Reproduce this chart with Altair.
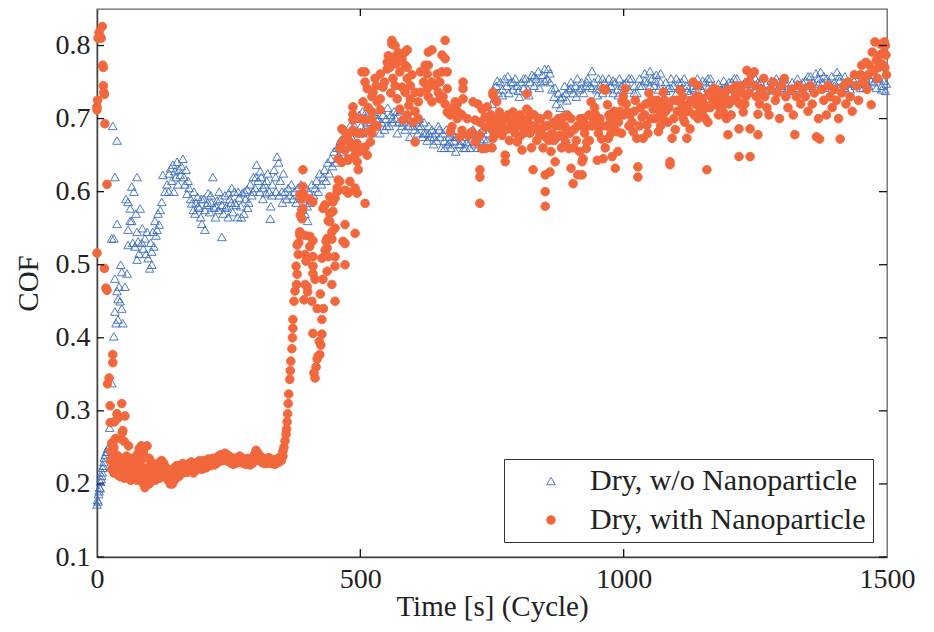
import altair as alt
import pandas as pd

SERIES = ["Dry, w/o Nanoparticle", "Dry, with Nanoparticle"]
x_ticks = [0, 500, 1000, 1500]
y_ticks = [0.1, 0.2, 0.3, 0.4, 0.5, 0.6, 0.7, 0.8]
inner_x_ticks = [500, 1000]

# ---------------- Dry, w/o Nanoparticle (triangles) ----------------
blue_rise = [[0,0.172],[1,0.178],[2,0.176],[3,0.186],[4,0.19],[5,0.195],[6,0.194],[7,0.203],[8,0.207],[9,0.211],
             [10,0.216],[11,0.222],[12,0.225],[13,0.23],[14,0.236],[16,0.24],[18,0.244],[20,0.248],[22,0.25],[24,0.277],
             [28,0.338],[32,0.402],[36,0.42],[40,0.425],[34,0.436],[49,0.42],[47,0.44],[40,0.453],[44,0.45],[38,0.464],
             [53,0.47],[34,0.481],[47,0.49],[57,0.488],[28,0.536],[38,0.556],[34,0.62],[30,0.69],[38,0.67],[32,0.536],
             [45,0.5],[42,0.47]]
blue_dip = [[59,0.586],[63,0.577],[82,0.577],[63,0.56],[59,0.548],[76,0.545],[59,0.527],[72,0.525],[78,0.532],[76,0.507],
            [91,0.536],[88,0.522],[97,0.509],[100,0.495],[104,0.518],[106,0.545],[114,0.548],[116,0.57],[123,0.586],[129,0.6],
            [125,0.623],[66,0.607],[55,0.59],[70,0.6],[85,0.53],[93,0.515],[95,0.545],[102,0.53],[108,0.525],[110,0.56],
            [118,0.555],[120,0.575],[112,0.54],[80,0.515],[68,0.53],[86,0.55],[104,0.5],[66,0.56],[74,0.57],[76,0.62]]
blue_hump = [[133,0.61],[137,0.625],[140,0.632],[144,0.637],[148,0.628],[152,0.641],[154,0.61],[156,0.63],[158,0.623],[160,0.635],
             [163,0.645],[165,0.62],[167,0.61],[169,0.63],[171,0.597],[173,0.615],[175,0.605],[136,0.6],[142,0.615],[146,0.6],
             [150,0.62]]
blue_band = [[178,0.59],[180,0.584],[183,0.575],[186,0.57],[188,0.585],[191,0.593],[194,0.578],[197,0.565],[199,0.556],[202,0.59],
             [205,0.548],[205,0.575],[208,0.582],[211,0.598],[214,0.572],[217,0.585],[220,0.62],[222,0.578],[225,0.565],[228,0.588],
             [231,0.575],[234,0.59],[237,0.538],[237,0.582],[240,0.57],[243,0.595],[246,0.58],[249,0.565],[252,0.59],[255,0.585],
             [258,0.572],[261,0.6],[264,0.582],[267,0.565],[270,0.592],[273,0.58],[276,0.598],[279,0.57],[282,0.59],[285,0.603],
             [288,0.585],[291,0.61],[294,0.595],[297,0.62],[300,0.605],[303,0.637],[306,0.615],[309,0.6],[312,0.62],[315,0.59],
             [318,0.61],[321,0.598],[324,0.625],[327,0.6],[329,0.563],[330,0.58],[333,0.61],[336,0.63],[339,0.62],[342,0.648],
             [345,0.64],[348,0.615],[351,0.6],[354,0.625],[184,0.6],[192,0.58],[198,0.59],[210,0.585],[216,0.595],[226,0.58],
             [232,0.6],[244,0.578],[250,0.598],[256,0.605],[262,0.585],[268,0.6],[274,0.565],[280,0.6],[286,0.578],[296,0.6],
             [302,0.62],[310,0.628],[316,0.605],[322,0.615],[332,0.595],[340,0.6],[346,0.595],[352,0.585]]
blue_climb = [[357,0.6],[360,0.59],[363,0.605],[366,0.595],[369,0.61],[372,0.59],[375,0.6],[378,0.585],[381,0.605],[384,0.595],
              [387,0.61],[390,0.6],[393,0.59],[396,0.605],[399,0.58],[402,0.6],[405,0.585],[408,0.61],[411,0.595],[414,0.605],
              [417,0.615],[420,0.6],[423,0.625],[426,0.61],[429,0.62],[432,0.63],[435,0.615],[438,0.64],[441,0.625],[444,0.645],
              [447,0.635],[450,0.655],[453,0.64],[456,0.66],[459,0.65],[462,0.67],[465,0.655],[468,0.675],[471,0.665],[474,0.68],
              [477,0.67],[480,0.69],[483,0.675],[486,0.685],[395,0.57],[400,0.56],[390,0.575]]
blue_mid = [[489,0.69],[492,0.7],[495,0.68],[498,0.705],[501,0.69],[504,0.71],[507,0.685],[510,0.7],[513,0.695],[516,0.71],
            [519,0.68],[522,0.7],[525,0.69],[528,0.705],[531,0.69],[534,0.7],[537,0.68],[540,0.695],[543,0.705],[546,0.685],
            [549,0.7],[552,0.715],[555,0.69],[558,0.705],[561,0.695],[564,0.71],[567,0.7],[570,0.68],[573,0.695],[576,0.712],
            [579,0.69],[582,0.7],[585,0.685],[588,0.705],[591,0.69],[594,0.675],[597,0.695],[600,0.705],[603,0.685],[606,0.695],
            [609,0.68],[612,0.7],[615,0.69],[618,0.675],[621,0.695],[624,0.68],[627,0.67],[630,0.69],[633,0.675],[636,0.685],
            [639,0.665],[642,0.68],[645,0.67],[648,0.69],[651,0.675],[654,0.66],[657,0.68],[660,0.67],[663,0.685],[666,0.665],
            [669,0.675],[672,0.66],[675,0.68],[678,0.67],[681,0.655],[684,0.675],[687,0.665],[690,0.68],[693,0.67],[696,0.66],
            [699,0.675],[702,0.668],[705,0.68],[708,0.66],[711,0.672],[714,0.685],[717,0.665],[720,0.675],[723,0.66],[726,0.68],
            [729,0.67],[732,0.685],[735,0.672],[738,0.66],[741,0.68],[744,0.69],[747,0.7],[750,0.72],[752,0.74],[755,0.728]]
blue_mid_b = [[490,0.7],[500,0.682],[510,0.708],[520,0.695],[530,0.7],[540,0.712],[550,0.69],[560,0.7],[570,0.71],[580,0.695],
              [590,0.702],[600,0.69],[610,0.69],[620,0.68],[630,0.68],[640,0.675],[650,0.685],[660,0.66],[670,0.668],[680,0.675],
              [690,0.665],[700,0.66],[710,0.68],[720,0.668],[730,0.66],[740,0.67]]
blue_high = [[758,0.745],[762,0.735],[766,0.75],[770,0.74],[774,0.755],[778,0.745],[782,0.735],[786,0.75],[790,0.74],[794,0.755],
             [798,0.745],[802,0.73],[806,0.75],[810,0.742],[814,0.755],[818,0.74],[822,0.75],[826,0.76],[830,0.745],[834,0.755],
             [838,0.765],[842,0.75],[846,0.76],[850,0.768],[854,0.755],[857,0.768],[860,0.75],[864,0.74],[868,0.73],[872,0.72],
             [876,0.735],[880,0.715],[884,0.73],[888,0.745],[892,0.725],[896,0.74],[900,0.75],[904,0.735],[908,0.745],[912,0.755],
             [916,0.74],[920,0.75],[924,0.735],[928,0.745],[932,0.755],[936,0.745],[940,0.765],[944,0.75],[948,0.74],[952,0.755],
             [956,0.745],[960,0.735],[964,0.75],[968,0.742],[972,0.755],[976,0.745],[980,0.735],[984,0.75],[988,0.74],[992,0.755],
             [996,0.745],[1000,0.735],[1005,0.75],[1010,0.74],[1015,0.755],[1020,0.745],[1025,0.735],[1030,0.755],[1035,0.745],[1040,0.762],
             [1045,0.75],[1050,0.765],[1054,0.755],[1058,0.745],[1062,0.76],[1066,0.74],[1070,0.75],[1075,0.738],[1080,0.75],[1085,0.742],
             [1090,0.755],[1095,0.745],[1100,0.735],[1105,0.75],[1110,0.742],[1115,0.755],[1120,0.745],[1125,0.735],[1130,0.75],[1135,0.74],
             [1140,0.755],[1145,0.745],[1150,0.738],[1155,0.75],[1160,0.742],[1165,0.755],[1170,0.745],[1175,0.735],[1180,0.748],[1185,0.74],
             [1190,0.752],[1195,0.745],[1200,0.735],[1205,0.75],[1210,0.742],[1215,0.755],[1220,0.745],[1225,0.738],[1230,0.75],[1235,0.742],
             [1240,0.755],[1245,0.745],[1250,0.738],[1255,0.75],[1260,0.742],[1265,0.735],[1270,0.748],[1275,0.74],[1280,0.752],[1285,0.745],
             [1290,0.738],[1295,0.75],[1300,0.742],[1305,0.755],[1310,0.745],[1315,0.738],[1320,0.75],[1325,0.742],[1330,0.755],[1335,0.745],
             [1340,0.738],[1345,0.752],[1350,0.745],[1355,0.758],[1360,0.75],[1365,0.762],[1370,0.755],[1374,0.764],[1378,0.75],[1382,0.742],
             [1386,0.755],[1390,0.745],[1395,0.758],[1400,0.75],[1405,0.764],[1410,0.752],[1415,0.745],[1420,0.758],[1425,0.748],[1430,0.74],
             [1435,0.755],[1440,0.745],[1445,0.76],[1450,0.75],[1455,0.742],[1460,0.755],[1465,0.745],[1470,0.76],[1475,0.75],[1480,0.742],
             [1485,0.755],[1490,0.745],[1494,0.752],[1497,0.738],[1499,0.748]]
blue_high_b = [[760,0.752],[770,0.732],[780,0.758],[790,0.75],[800,0.738],[810,0.755],[820,0.732],[830,0.758],[840,0.742],[850,0.752],
               [860,0.762],[870,0.742],[880,0.728],[890,0.735],[900,0.742],[910,0.73],[920,0.742],[930,0.75],[940,0.742],[950,0.732],
               [960,0.755],[970,0.74],[980,0.752],[990,0.732],[1000,0.748],[1010,0.755],[1020,0.735],[1030,0.745],[1040,0.752],[1050,0.745],
               [1060,0.752],[1070,0.762],[1080,0.738],[1090,0.742],[1100,0.755],[1110,0.75],[1120,0.738],[1130,0.742],[1140,0.745],[1150,0.752],
               [1160,0.755],[1170,0.738],[1180,0.735],[1190,0.742],[1200,0.75],[1210,0.755],[1220,0.738],[1230,0.742],[1240,0.748],[1250,0.755],
               [1260,0.75],[1270,0.738],[1280,0.742],[1290,0.755],[1300,0.75],[1310,0.74],[1320,0.742],[1330,0.748],[1340,0.75],[1350,0.758],
               [1360,0.742],[1370,0.748],[1380,0.758],[1390,0.75],[1400,0.745],[1410,0.758],[1420,0.742],[1430,0.75],[1440,0.755],[1450,0.742],
               [1460,0.748],[1470,0.752],[1480,0.755],[1490,0.74]]

# ---------------- Dry, with Nanoparticle (filled circles) ----------------
orange_start = [[0,0.716],[1,0.725],[2,0.81],[4,0.818],[6,0.812],[8,0.81],[10,0.826],[11,0.773],[12,0.77],[12,0.745],
                [13,0.736],[14,0.733],[0,0.712],[15,0.693],[19,0.61],[0,0.516],[14,0.495],[17,0.468],[19,0.465],[20,0.337],
                [23,0.345],[30,0.366],[30,0.377],[25,0.307],[25,0.284],[38,0.296],[47,0.31],[53,0.293],[49,0.273],[30,0.256],
                [33,0.285],[40,0.29],[35,0.262]]
orange_band = [[26,0.245],[26,0.232],[28,0.256],[28,0.22],[32,0.25],[32,0.228],[32,0.215],[36,0.24],[36,0.222],[40,0.238],
               [40,0.212],[40,0.228],[44,0.262],[44,0.225],[44,0.21],[48,0.27],[48,0.232],[48,0.218],[52,0.258],[52,0.22],
               [52,0.208],[56,0.238],[56,0.222],[56,0.212],[60,0.252],[60,0.228],[60,0.21],[64,0.235],[64,0.218],[64,0.205],
               [68,0.232],[68,0.215],[72,0.228],[72,0.212],[76,0.24],[76,0.22],[76,0.205],[80,0.248],[80,0.225],[80,0.21],
               [84,0.252],[84,0.232],[84,0.215],[88,0.243],[88,0.22],[88,0.2],[91,0.195],[91,0.21],[95,0.252],[95,0.222],
               [95,0.208],[99,0.235],[99,0.215],[99,0.2],[103,0.23],[103,0.212],[107,0.226],[107,0.21],[111,0.222],[111,0.215],
               [111,0.205],[115,0.225],[115,0.212],[119,0.23],[119,0.218],[119,0.208],[123,0.232],[123,0.215],[127,0.228],[127,0.212],
               [131,0.222],[131,0.21],[135,0.215],[135,0.205],[139,0.212],[139,0.2],[143,0.218],[143,0.2],[147,0.222],[147,0.205],
               [151,0.225],[151,0.212],[155,0.222],[155,0.21],[159,0.225],[159,0.215],[163,0.228],[163,0.215],[167,0.226],[167,0.218],
               [171,0.224],[171,0.216],[175,0.228],[175,0.218],[179,0.23],[179,0.22],[183,0.226],[183,0.215],[187,0.228],[187,0.218],
               [191,0.23],[191,0.222],[195,0.232],[195,0.222],[199,0.228],[199,0.22],[203,0.232],[203,0.224],[207,0.23],[207,0.222],
               [211,0.234],[211,0.226],[215,0.232],[215,0.225],[219,0.235],[219,0.228],[223,0.233],[223,0.226],[227,0.236],[227,0.228],
               [231,0.238],[231,0.23],[235,0.24],[235,0.232],[239,0.238],[239,0.232],[243,0.242],[243,0.234],[247,0.24],[247,0.232],
               [251,0.238],[251,0.23],[255,0.236],[255,0.228],[259,0.235],[259,0.227],[263,0.234],[263,0.228],[267,0.236],[267,0.23],
               [271,0.238],[271,0.23],[275,0.236],[275,0.229],[279,0.234],[279,0.228],[283,0.232],[283,0.227],[287,0.235],[287,0.228],
               [291,0.232],[291,0.226],[295,0.234],[295,0.228],[299,0.24],[299,0.232],[302,0.246],[302,0.236],[306,0.242],[306,0.234],
               [310,0.238],[310,0.231],[314,0.235],[314,0.229],[318,0.234],[318,0.228],[322,0.233],[322,0.228],[326,0.236],[326,0.229],
               [330,0.234],[330,0.228],[334,0.233],[334,0.228],[338,0.232],[338,0.227],[342,0.234],[342,0.229],[346,0.236],[346,0.23],
               [350,0.238],[350,0.232],[353,0.245],[353,0.238]]
orange_rise = [[355,0.25],[357,0.259],[359,0.268],[360,0.275],[361,0.285],[362,0.296],[363,0.31],[364,0.323],[366,0.343],[367,0.355],
               [368,0.368],[370,0.385],[371,0.4],[372,0.413],[372,0.425],[374,0.45],[376,0.464],[379,0.473],[380,0.487],[378,0.498],
               [382,0.514],[380,0.527],[385,0.545],[389,0.563],[389,0.575],[385,0.596],[391,0.607],[391,0.63],[388,0.59],[386,0.568],
               [383,0.53]]
orange_scatter = [[414,0.345],[420,0.375],[423,0.377],[418,0.371],[427,0.405],[410,0.406],[427,0.425],[418,0.44],[408,0.45],[393,0.452],
                  [452,0.45],[446,0.473],[429,0.48],[410,0.488],[395,0.473],[410,0.498],[397,0.505],[437,0.491],[471,0.5],[452,0.511],
                  [439,0.511],[433,0.52],[410,0.511],[395,0.514],[404,0.525],[385,0.541],[404,0.539],[410,0.533],[437,0.523],[437,0.536],
                  [446,0.535],[452,0.55],[467,0.532],[471,0.555],[490,0.543],[442,0.559],[442,0.57],[433,0.582],[448,0.573],[452,0.591],
                  [456,0.6],[461,0.614],[458,0.616],[475,0.6],[480,0.614],[490,0.605],[494,0.598],[509,0.584],[477,0.598],[391,0.598],
                  [395,0.593],[404,0.59],[410,0.586],[391,0.577],[395,0.54],[414,0.48],[399,0.47],[429,0.577],[442,0.593],[456,0.605],
                  [448,0.586],[471,0.602],[446,0.545],[435,0.532],[427,0.509],[439,0.56],[471,0.529],[452,0.498],[416,0.36],[412,0.352],
                  [425,0.39],[422,0.395],[430,0.44],[424,0.46],[400,0.463]]
orange_mid = [[465,0.686],[484,0.682],[496,0.68],[465,0.668],[471,0.657],[484,0.661],[494,0.666],[509,0.661],[513,0.65],[490,0.65],
              [494,0.641],[496,0.63],[477,0.643],[458,0.645],[465,0.64],[461,0.659],[477,0.645],[490,0.664],[499,0.655],[519,0.668],
              [480,0.668],[467,0.684],[486,0.684],[486,0.698],[486,0.716],[486,0.706],[505,0.68],[509,0.698],[519,0.684],[522,0.68],
              [532,0.69],[522,0.698],[522,0.709],[505,0.723],[513,0.741],[509,0.75],[528,0.755],[538,0.761],[524,0.736],[503,0.764],
              [509,0.764],[522,0.73],[532,0.723],[538,0.712],[538,0.727],[543,0.743],[500,0.7],[475,0.675],[515,0.715],[530,0.745]]
orange_peak1 = [[551,0.768],[551,0.777],[560,0.802],[560,0.807],[566,0.8],[572,0.79],[553,0.786],[562,0.784],[579,0.782],[585,0.773],
                [585,0.791],[589,0.794],[575,0.764],[562,0.755],[589,0.77],[589,0.755],[595,0.745],[579,0.743],[585,0.736],[570,0.727],
                [575,0.713],[595,0.727],[604,0.736],[610,0.723],[604,0.71],[600,0.695],[589,0.705],[610,0.7],[604,0.668],[581,0.698],
                [614,0.764],[556,0.77],[568,0.775],[598,0.76],[546,0.75],[558,0.735],[566,0.745],[592,0.718]]
orange_peak2 = [[629,0.791],[636,0.794],[629,0.773],[623,0.773],[655,0.787],[661,0.807],[661,0.782],[655,0.764],[665,0.764],[646,0.761],
                [627,0.761],[636,0.75],[651,0.75],[665,0.741],[648,0.736],[627,0.741],[614,0.736],[629,0.73],[636,0.723],[651,0.727],
                [661,0.72],[665,0.709],[671,0.705],[680,0.723],[684,0.72],[693,0.705],[695,0.727],[695,0.75],[695,0.741],[686,0.709],
                [703,0.7],[684,0.7],[674,0.689],[693,0.684],[671,0.682],[689,0.675],[705,0.677],[712,0.682],[714,0.723],[723,0.72],
                [731,0.713],[718,0.698],[727,0.695],[737,0.702],[737,0.688],[727,0.677],[718,0.668],[731,0.659],[737,0.659],[727,0.63],
                [727,0.62],[727,0.584],[642,0.745],[620,0.75],[657,0.73],[676,0.715]]
orange_plateau = [[752,0.732],[752,0.736],[759,0.723],[741,0.716],[743,0.7],[752,0.684],[764,0.709],[752,0.673],[750,0.66],[769,0.677],
                  [775,0.65],[775,0.641],[790,0.709],[794,0.68],[798,0.668],[807,0.657],[816,0.734],[816,0.713],[822,0.68],[828,0.63],
                  [841,0.677],[847,0.66],[851,0.623],[851,0.6],[851,0.58],[860,0.627],[870,0.641],[866,0.695],[879,0.677],[885,0.702],
                  [890,0.668],[896,0.659],[900,0.632],[904,0.611],[913,0.623],[923,0.645],[929,0.659],[938,0.723],[942,0.7],[961,0.741],
                  [961,0.645],[969,0.719],[976,0.68],[984,0.632],[987,0.7],[989,0.655],[745,0.69],[748,0.705],[756,0.695],[760,0.68],
                  [766,0.69],[772,0.7],[778,0.685],[783,0.67],[786,0.695],[800,0.69],[804,0.705],[810,0.68],[812,0.695],[818,0.7],
                  [825,0.66],[832,0.69],[835,0.67],[838,0.7],[844,0.685],[855,0.69],[858,0.67],[862,0.655],[872,0.69],[876,0.7],
                  [882,0.66],[888,0.69],[893,0.705],[898,0.68],[905,0.66],[910,0.67],[916,0.655],[920,0.69],[926,0.68],[932,0.69],
                  [935,0.67],[945,0.715],[950,0.69],[955,0.7],[958,0.672],[965,0.66],[972,0.705],[980,0.69],[993,0.71],[996,0.68],
                  [921,0.623],[921,0.641],[930,0.668],[927,0.691],[946,0.706],[950,0.643],[965,0.739],[971,0.673],[978,0.648],[988,0.682]]
orange_plateau_b = [[760,0.7],[770,0.69],[780,0.705],[790,0.685],[796,0.7],[802,0.675],[808,0.695],[814,0.685],[820,0.71],[826,0.69],
                    [830,0.705],[836,0.685],[842,0.7],[848,0.69],[852,0.675],[856,0.705],[864,0.68],[868,0.67],[874,0.675],[880,0.69],
                    [886,0.675],[892,0.685],[900,0.7],[906,0.685],[912,0.69],[918,0.7],[924,0.7],[934,0.705],[940,0.69],[948,0.7],
                    [952,0.68],[960,0.69],[968,0.69],[975,0.7],[982,0.71],[990,0.695]]
orange_rising = [[997,0.723],[999,0.73],[1003,0.741],[1007,0.709],[1016,0.695],[1018,0.682],[1027,0.634],[1027,0.62],[1025,0.673],[1035,0.702],
                 [1037,0.673],[1050,0.723],[1044,0.691],[1056,0.713],[1060,0.7],[1066,0.682],[1069,0.709],[1075,0.736],[1075,0.7],[1084,0.695],
                 [1088,0.641],[1088,0.637],[1092,0.673],[1101,0.725],[1107,0.739],[1107,0.709],[1113,0.7],[1120,0.718],[1120,0.673],[1126,0.686],
                 [1132,0.75],[1141,0.745],[1149,0.727],[1145,0.713],[1141,0.7],[1158,0.63],[1160,0.695],[1170,0.741],[1177,0.727],[1183,0.736],
                 [1189,0.709],[1198,0.678],[1200,0.72],[1209,0.741],[1217,0.723],[1219,0.686],[1219,0.648],[1227,0.709],[1234,0.766],[1010,0.69],
                 [1020,0.71],[1030,0.69],[1040,0.705],[1046,0.68],[1052,0.7],[1062,0.715],[1070,0.69],[1080,0.71],[1095,0.7],[1098,0.685],
                 [1110,0.72],[1116,0.695],[1124,0.71],[1136,0.72],[1138,0.73],[1152,0.72],[1155,0.7],[1164,0.715],[1166,0.73],[1174,0.72],
                 [1180,0.705],[1186,0.725],[1192,0.73],[1195,0.7],[1204,0.705],[1212,0.73],[1222,0.735],[1230,0.72],[1238,0.735]]
orange_rising_b = [[1000,0.705],[1005,0.72],[1012,0.705],[1022,0.725],[1032,0.715],[1042,0.72],[1048,0.735],[1055,0.725],[1064,0.725],[1072,0.72],
                   [1078,0.725],[1086,0.715],[1094,0.725],[1102,0.71],[1112,0.73],[1118,0.71],[1128,0.725],[1134,0.705],[1143,0.73],[1150,0.705],
                   [1157,0.715],[1162,0.735],[1168,0.72],[1176,0.74],[1182,0.715],[1190,0.72],[1198,0.74],[1206,0.725],[1214,0.745],[1220,0.72],
                   [1226,0.745],[1232,0.73],[1236,0.75]]
orange_end = [[1242,0.76],[1248,0.764],[1250,0.745],[1252,0.73],[1255,0.706],[1255,0.678],[1240,0.648],[1240,0.686],[1258,0.72],[1262,0.74],
              [1266,0.755],[1268,0.73],[1272,0.715],[1276,0.705],[1280,0.74],[1284,0.75],[1288,0.725],[1292,0.735],[1296,0.7],[1300,0.745],
              [1305,0.755],[1308,0.73],[1312,0.715],[1318,0.74],[1322,0.705],[1325,0.678],[1328,0.73],[1332,0.745],[1336,0.72],[1340,0.74],
              [1345,0.73],[1350,0.71],[1355,0.745],[1358,0.72],[1362,0.735],[1366,0.675],[1370,0.7],[1372,0.672],[1376,0.74],[1380,0.725],
              [1385,0.705],[1388,0.745],[1392,0.73],[1396,0.715],[1400,0.74],[1404,0.725],[1408,0.7],[1411,0.672],[1414,0.735],[1418,0.745],
              [1422,0.72],[1426,0.75],[1430,0.73],[1434,0.71],[1438,0.76],[1442,0.745],[1446,0.725],[1450,0.76],[1452,0.773],[1456,0.75],
              [1460,0.777],[1462,0.74],[1464,0.76],[1467,0.773],[1470,0.719],[1472,0.791],[1475,0.765],[1477,0.805],[1480,0.78],[1482,0.755],
              [1484,0.77],[1486,0.787],[1488,0.802],[1490,0.775],[1493,0.79],[1495,0.805],[1496,0.77],[1498,0.787],[1499,0.76],[1497,0.8]]

blue_segments = [blue_rise, blue_dip, blue_hump, blue_band, blue_climb, blue_mid, blue_mid_b, blue_high, blue_high_b]
orange_segments = [orange_start, orange_band, orange_rise, orange_scatter, orange_mid, orange_peak1,
                   orange_peak2, orange_plateau, orange_plateau_b, orange_rising, orange_rising_b, orange_end]


def rows(segments, name):
    return [{"t": p[0], "cof": p[1], "series": name} for seg in segments for p in seg]


df = pd.DataFrame(rows(blue_segments, SERIES[0]) + rows(orange_segments, SERIES[1]))

FONT = "Liberation Serif"
BLUE = "#3b6cc0"
ORANGE = "#f2673c"
TEXT = "#222222"

x_scale = alt.Scale(domain=[0, 1500], nice=False, zero=False)
y_scale = alt.Scale(domain=[0.1, 0.85], nice=False, zero=False)

legend = alt.Legend(
    title=None, orient="none", legendX=407, legendY=450,
    strokeColor="#333333", fillColor="white", padding=7,
    labelFont=FONT, labelFontSize=30, labelColor=TEXT, labelLimit=500,
    symbolSize=75, symbolStrokeWidth=0.9, rowPadding=9,
    symbolOffset=25, labelOffset=24,
)

points = alt.Chart(df).mark_point(size=75, strokeWidth=0.9, opacity=1).encode(
    x=alt.X("t:Q", scale=x_scale, axis=alt.Axis(
        values=x_ticks, format="d", title="Time [s] (Cycle)", ticks=False, grid=False,
        labelPadding=8, labelFont=FONT, labelFontSize=28, labelColor=TEXT, labelFlush=False,
        titleFont=FONT, titleFontSize=29, titleFontWeight="normal", titleColor=TEXT,
        titleBaseline="alphabetic", titleY=58, domainColor="#444444", domainWidth=1.5)),
    y=alt.Y("cof:Q", scale=y_scale, axis=alt.Axis(
        values=y_ticks, format=".1f", title="COF", ticks=False, grid=False,
        labelPadding=7, labelFont=FONT, labelFontSize=28, labelColor=TEXT,
        titleFont=FONT, titleFontSize=29, titleFontWeight="normal", titleColor=TEXT,
        titleAngle=270, titleBaseline="alphabetic", titleX=-60, titleY=274,
        domainColor="#444444", domainWidth=1.5)),
    shape=alt.Shape("series:N", scale=alt.Scale(domain=SERIES, range=["triangle-up", "circle"]), legend=legend),
    stroke=alt.Stroke("series:N", scale=alt.Scale(domain=SERIES, range=[BLUE, ORANGE]), legend=legend),
    fill=alt.Fill("series:N", scale=alt.Scale(domain=SERIES, range=["transparent", ORANGE]), legend=legend),
)

ytick_df = pd.DataFrame({"cof": y_ticks})
xtick_df = pd.DataFrame({"t": inner_x_ticks})

left_ticks = alt.Chart(ytick_df).mark_rule(color="#111111", strokeWidth=1.3).encode(
    y=alt.Y("cof:Q", scale=y_scale), x=alt.value(0), x2=alt.value(7))
right_ticks = alt.Chart(ytick_df).mark_rule(color="#111111", strokeWidth=1.3).encode(
    y=alt.Y("cof:Q", scale=y_scale), x=alt.value(782), x2=alt.value(790))
bottom_ticks = alt.Chart(xtick_df).mark_rule(color="#111111", strokeWidth=1.3).encode(
    x=alt.X("t:Q", scale=x_scale), y=alt.value(540), y2=alt.value(548))
top_ticks = alt.Chart(xtick_df).mark_rule(color="#111111", strokeWidth=1.3).encode(
    x=alt.X("t:Q", scale=x_scale), y=alt.value(0), y2=alt.value(7))

chart = alt.layer(points, left_ticks, right_ticks, bottom_ticks, top_ticks).properties(
    width=790, height=548,
    autosize=alt.AutoSizeParams(type="none"),
    padding={"left": 89, "top": 1, "right": 30, "bottom": 65},
    background="white",
).configure_view(stroke="#666666", strokeWidth=1.3)

chart.save("out.html", embed_options={"renderer": "svg", "actions": False})
